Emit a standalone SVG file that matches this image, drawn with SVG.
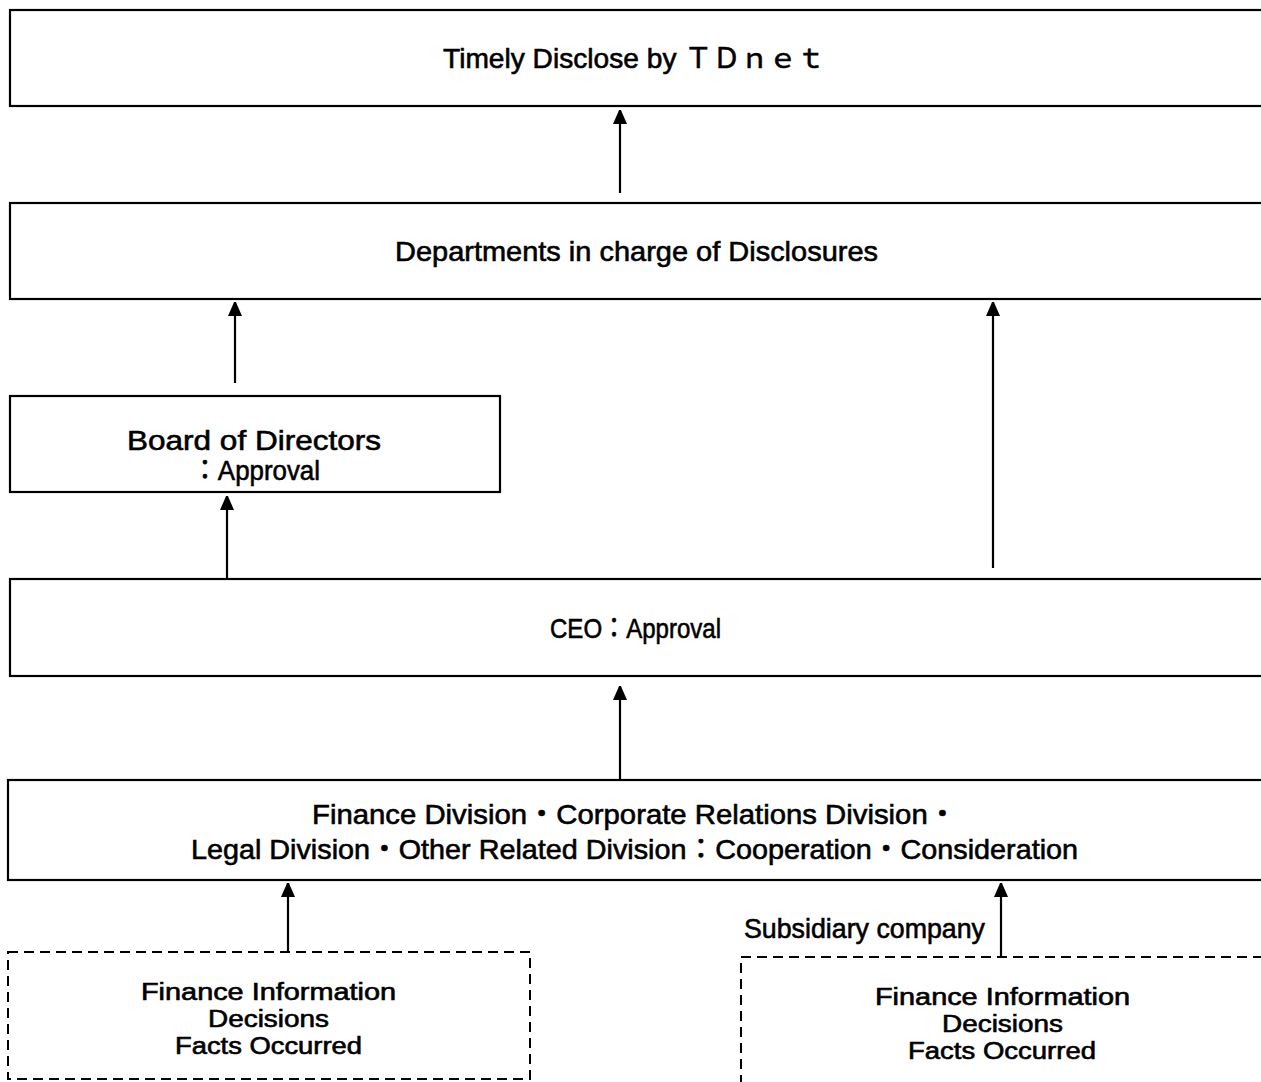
<svg xmlns="http://www.w3.org/2000/svg" width="1261" height="1082" viewBox="0 0 1261 1082">
<style>
.box{fill:#fff;stroke:#000;stroke-width:2.2}
.dash{fill:none;stroke:#000;stroke-width:2;stroke-dasharray:10,6}
.t{font-family:"Liberation Sans","Noto Sans CJK JP",sans-serif;font-size:28px;fill:#000;stroke:#000;stroke-width:0.6}
.s{font-size:23px}
.c{stroke:#000;stroke-width:2.2;fill:none;marker-end:url(#ah)}
</style>
<defs>
<marker id="ah" viewBox="0 0 14 16" refX="14" refY="7" markerWidth="14" markerHeight="16" markerUnits="userSpaceOnUse" orient="auto">
<path d="M0,0 L16,7 L0,14 z" fill="#000"/>
</marker>
</defs>
<rect width="1261" height="1082" fill="#fff"/>
<g id="tdnet">
<rect class="box" x="10" y="10" width="1270" height="96"/>
<text class="t" x="443" y="68" textLength="382" lengthAdjust="spacingAndGlyphs">Timely Disclose by ＴＤｎｅｔ</text>
</g>
<g id="departments">
<rect class="box" x="10" y="203" width="1270" height="96"/>
<text class="t" x="395" y="261" textLength="483" lengthAdjust="spacingAndGlyphs">Departments in charge of Disclosures</text>
</g>
<g id="board">
<rect class="box" x="10" y="396" width="490" height="96"/>
<text class="t" x="127" y="450" textLength="254" lengthAdjust="spacingAndGlyphs">Board of Directors</text>
<text class="t" x="192" y="480" textLength="128" lengthAdjust="spacingAndGlyphs">：Approval</text>
</g>
<g id="ceo">
<rect class="box" x="10" y="579" width="1270" height="97"/>
<text class="t" x="550" y="638" textLength="171" lengthAdjust="spacingAndGlyphs">CEO：Approval</text>
</g>
<g id="divisions">
<rect class="box" x="8" y="780" width="1272" height="100"/>
<text class="t" x="312" y="824" textLength="645" lengthAdjust="spacingAndGlyphs">Finance Division・Corporate Relations Division・</text>
<text class="t" x="191" y="859" textLength="887" lengthAdjust="spacingAndGlyphs">Legal Division・Other Related Division：Cooperation・Consideration</text>
</g>
<g id="info-parent">
<rect class="dash" x="8" y="952" width="522" height="127"/>
<text class="t s" x="141" y="1000" textLength="255" lengthAdjust="spacingAndGlyphs">Finance Information</text>
<text class="t s" x="208" y="1027" textLength="121" lengthAdjust="spacingAndGlyphs">Decisions</text>
<text class="t s" x="175" y="1054" textLength="187" lengthAdjust="spacingAndGlyphs">Facts Occurred</text>
</g>
<g id="info-subsidiary">
<rect class="dash" x="741" y="957" width="540" height="140"/>
<text class="t s" x="875" y="1005" textLength="255" lengthAdjust="spacingAndGlyphs">Finance Information</text>
<text class="t s" x="942" y="1032" textLength="121" lengthAdjust="spacingAndGlyphs">Decisions</text>
<text class="t s" x="908" y="1059" textLength="188" lengthAdjust="spacingAndGlyphs">Facts Occurred</text>
</g>
<g id="connectors">
<line class="c" x1="620" y1="193" x2="620" y2="110"/>
<line class="c" x1="235" y1="383" x2="235" y2="302"/>
<line class="c" x1="993" y1="568" x2="993" y2="302"/>
<line class="c" x1="227" y1="579" x2="227" y2="496"/>
<line class="c" x1="620" y1="780" x2="620" y2="686"/>
<line class="c" x1="288" y1="952" x2="288" y2="883"/>
<line class="c" x1="1001" y1="956" x2="1001" y2="883"/>
<text class="t" x="744" y="938" textLength="241" lengthAdjust="spacingAndGlyphs">Subsidiary company</text>
</g>
</svg>
